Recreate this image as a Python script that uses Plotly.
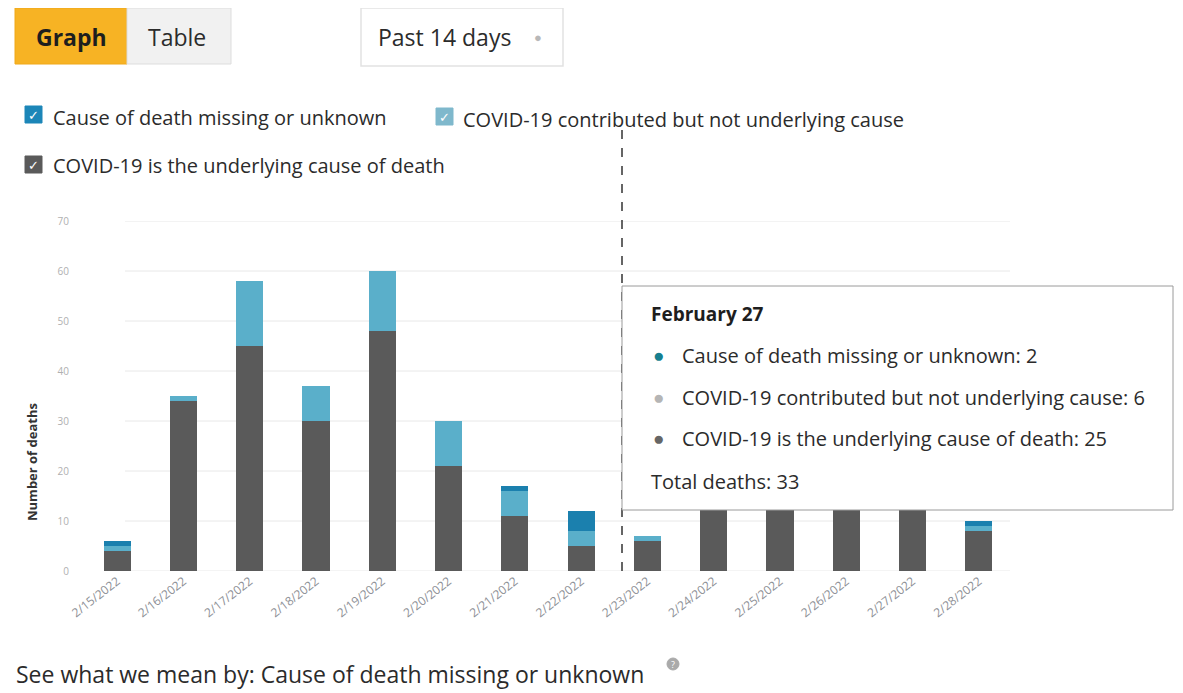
import plotly.graph_objects as go

# ---- data ----
dates = ["2/15/2022", "2/16/2022", "2/17/2022", "2/18/2022", "2/19/2022", "2/20/2022", "2/21/2022",
         "2/22/2022", "2/23/2022", "2/24/2022", "2/25/2022", "2/26/2022", "2/27/2022", "2/28/2022"]
underlying = [4, 34, 45, 30, 48, 21, 11, 5, 6, 18, 20, 22, 25, 8]
contributed = [1, 1, 13, 7, 12, 9, 5, 3, 1, 4, 5, 5, 6, 1]
missing = [1, 0, 0, 0, 0, 0, 1, 4, 0, 1, 1, 1, 2, 1]
y_ticks = [0, 10, 20, 30, 40, 50, 60, 70]

names = ["COVID-19 is the underlying cause of death",
         "COVID-19 contributed but not underlying cause",
         "Cause of death missing or unknown"]
colors = ["#5a5a5a", "#5aafca", "#1b80ae"]

OFF = 8  # page body margin
W, H = 1183 - OFF, 693 - OFF
L, R, T, B = 84, 1012, 221, 571  # screen pixel positions of the plot area
FONT = "Open Sans"


def px(x):
    return (x - L) / (R - L)


def py(y):
    return (B - y) / (B - T)


fig = go.Figure()
for vals, nm, c in zip([underlying, contributed, missing], names, colors):
    fig.add_trace(go.Bar(x=dates, y=vals, name=nm, marker=dict(color=c, line=dict(width=0))))

shapes = []
annos = []

# gridlines
for v in y_ticks:
    shapes.append(dict(type="line", xref="paper", yref="y", x0=px(125), x1=px(1010), y0=v, y1=v,
                       line=dict(color="#e8e8e8", width=1), layer="below"))

# top buttons
shapes.append(dict(type="rect", xref="paper", yref="paper", x0=px(15), x1=px(127), y0=py(64), y1=py(8),
                   fillcolor="#f7b324", line=dict(color="#f0a818", width=1)))
shapes.append(dict(type="rect", xref="paper", yref="paper", x0=px(127), x1=px(231), y0=py(64), y1=py(8),
                   fillcolor="#f1f1f1", line=dict(color="#dddddd", width=1)))
shapes.append(dict(type="rect", xref="paper", yref="paper", x0=px(361), x1=px(563), y0=py(66), y1=py(8),
                   fillcolor="#ffffff", line=dict(color="#e2e2e2", width=1.5)))
annos += [
    dict(text="<b>Graph</b>", x=px(71), y=py(37), font=dict(size=23, color="#1e1e1e")),
    dict(text="Table", x=px(177), y=py(37), font=dict(size=23, color="#2b2b2b")),
    dict(text="Past 14 days", x=px(376), y=py(37), xanchor="left", font=dict(size=23, color="#2b2b2b")),
    dict(text="●", x=px(538), y=py(37), font=dict(size=13, color="#b8b8b8")),
]

# checkbox legend
boxes = [(25, 106, "#1c86b8", names[2], 51, 117),
         (436, 108, "#7fb8cc", names[1], 461, 119),
         (25, 156, "#5a5a5a", names[0], 51, 165)]
for bx, by, bc, txt, tx, ty in boxes:
    shapes.append(dict(type="rect", xref="paper", yref="paper", x0=px(bx), x1=px(bx + 17),
                       y0=py(by + 17), y1=py(by), fillcolor=bc, line=dict(color=bc, width=1)))
    annos.append(dict(text="✓", x=px(bx + 8.5), y=py(by + 8.5), font=dict(size=13, color="white")))
    annos.append(dict(text=txt, x=px(tx), y=py(ty), xanchor="left", font=dict(size=20, color="#2b2b2b")))

# hover dashed line
shapes.append(dict(type="line", xref="paper", yref="paper", x0=px(622), x1=px(622), y0=py(571), y1=py(130),
                   line=dict(color="#333333", width=1.5, dash="dash")))

# tooltip
shapes.append(dict(type="rect", xref="paper", yref="paper", x0=px(622), x1=px(1173), y0=py(510), y1=py(286),
                   fillcolor="#ffffff", line=dict(color="#9a9a9a", width=1)))
i27 = dates.index("2/27/2022")
tip_rows = [
    (f"{names[2]}: {missing[i27]}", 355, "#177f8f"),
    (f"{names[1]}: {contributed[i27]}", 397, "#b5b5b5"),
    (f"{names[0]}: {underlying[i27]}", 438, "#666666"),
]
annos.append(dict(text="<b>February 27</b>", x=px(649), y=py(314), xanchor="left",
                  font=dict(size=19, color="#1e1e1e")))
for txt, yy, dc in tip_rows:
    annos.append(dict(text="●", x=px(658), y=py(yy), font=dict(size=19, color=dc)))
    annos.append(dict(text=txt, x=px(680), y=py(yy), xanchor="left", font=dict(size=20, color="#2b2b2b")))
total27 = missing[i27] + contributed[i27] + underlying[i27]
annos.append(dict(text=f"Total deaths: {total27}", x=px(649), y=py(481), xanchor="left",
                  font=dict(size=20, color="#2b2b2b")))

# y-axis title
annos.append(dict(text="<b>Number of deaths</b>", x=px(32), y=py(462), textangle=-90,
                  font=dict(size=13, color="#333333")))

# bottom note
annos.append(dict(text="See what we mean by: Cause of death missing or unknown", x=px(14), y=py(692),
                  xanchor="left", yanchor="bottom", font=dict(size=23, color="#2b2b2b")))
shapes.append(dict(type="circle", xref="paper", yref="paper", x0=px(667), x1=px(679), y0=py(670), y1=py(658),
                   fillcolor="#aaaaaa", line=dict(color="#aaaaaa", width=1)))
annos.append(dict(text="?", x=px(673), y=py(664), font=dict(size=9, color="white")))

for a in annos:
    a.setdefault("xref", "paper")
    a.setdefault("yref", "paper")
    a.setdefault("showarrow", False)
    a.setdefault("xanchor", "center")
    a.setdefault("yanchor", "middle")

fig.update_layout(
    width=W, height=H,
    margin=dict(l=L - OFF, r=W - (R - OFF), t=T - OFF, b=H - (B - OFF), pad=0),
    barmode="stack", bargap=0.59,
    showlegend=False,
    plot_bgcolor="white", paper_bgcolor="white",
    font=dict(family=FONT, color="#333"),
    shapes=shapes, annotations=annos,
    xaxis=dict(type="category", tickangle=-38, tickfont=dict(size=12, color="#8d9096"),
               showgrid=False, showline=False, zeroline=False, ticks=""),
    yaxis=dict(range=[0, 70], tickvals=y_ticks, tickfont=dict(size=10, color="#b0b0b0"),
               showgrid=False, zeroline=False, showline=False, ticks="", ticklabelstandoff=14),
)

fig.write_html("out.html")
